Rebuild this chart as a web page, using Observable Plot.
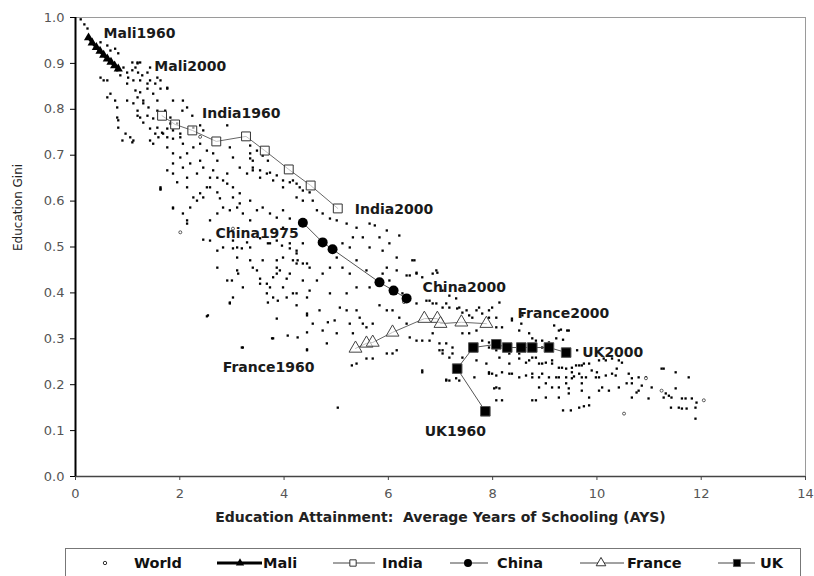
<!DOCTYPE html>
<html>
<head>
<meta charset="utf-8">
<script src="https://cdn.jsdelivr.net/npm/d3@7"></script>
<script src="https://cdn.jsdelivr.net/npm/@observablehq/plot@0.6"></script>
<style>
  body { margin: 0; background: #fff; }
  #chart svg, #legend svg { display: block; }
</style>
</head>
<body>
<div id="chart"></div>
<div id="legend"></div>
<script>
// ---------- tick labels ----------
const xTicks = [0, 2, 4, 6, 8, 10, 12, 14];
const yTicks = [0, 0.1, 0.2, 0.3, 0.4, 0.5, 0.6, 0.7, 0.8, 0.9, 1.0];
const xTitle = "Education Attainment:  Average Years of Schooling (AYS)";
const yTitle = "Education Gini";

// ---------- country series (AYS, Gini) ----------
const maliAYS   = [0.25, 0.32, 0.40, 0.47, 0.54, 0.61, 0.68, 0.75, 0.82];
const maliGini  = [0.956, 0.945, 0.935, 0.927, 0.918, 0.910, 0.903, 0.895, 0.888];
const indiaAYS  = [1.66, 1.91, 2.24, 2.70, 3.27, 3.63, 4.09, 4.51, 5.03];
const indiaGini = [0.786, 0.767, 0.754, 0.730, 0.741, 0.710, 0.669, 0.634, 0.584];
const chinaAYS  = [4.36, 4.74, 4.93, 5.83, 6.10, 6.35];
const chinaGini = [0.553, 0.510, 0.495, 0.423, 0.405, 0.388];
const franceAYS = [5.37, 5.58, 5.70, 6.08, 6.69, 6.94, 7.00, 7.40, 7.88];
const franceGini= [0.279, 0.290, 0.292, 0.314, 0.344, 0.344, 0.333, 0.336, 0.333];
const ukAYS     = [7.86, 7.32, 7.63, 8.07, 8.28, 8.55, 8.76, 9.08, 9.41];
const ukGini    = [0.142, 0.235, 0.281, 0.288, 0.281, 0.281, 0.281, 0.281, 0.270];

// ---------- world observations [AYS, Gini] ----------
const worldPoints = [
[0.10,0.996],[0.17,0.985],[0.23,0.976],[0.48,0.946],[0.61,0.939],[0.76,0.932],[0.82,0.922],[0.67,0.928],
[1.09,0.902],[1.19,0.902],[1.24,0.902],[1.15,0.891],[0.99,0.880],[1.09,0.885],[1.38,0.880],[1.28,0.874],
[0.48,0.869],[0.61,0.863],[0.67,0.834],[0.76,0.819],[0.80,0.782],[0.82,0.760],[0.96,0.747],[1.05,0.739],
[1.11,0.732],[1.15,0.841],[1.19,0.826],[1.24,0.837],[1.38,0.845],[1.43,0.863],[1.53,0.856],[1.63,0.845],
[1.76,0.845],[1.49,0.834],[1.57,0.819],[1.30,0.819],[1.40,0.804],[1.38,0.786],[1.24,0.782],[1.49,0.780],
[1.57,0.760],[1.53,0.747],[1.68,0.747],[1.76,0.739],[1.87,0.819],[2.06,0.819],[2.14,0.804],[2.05,0.797],
[2.24,0.786],[2.26,0.760],[2.39,0.765],[2.45,0.754],[1.87,0.736],[2.01,0.739],[2.06,0.725],[1.76,0.717],
[1.87,0.704],[2.01,0.695],[2.14,0.704],[2.26,0.717],[2.39,0.725],[2.52,0.710],[2.64,0.704],[2.72,0.688],
[2.39,0.688],[2.20,0.682],[2.06,0.673],[1.87,0.682],[2.45,0.673],[2.64,0.667],[2.91,0.765],[2.96,0.717],
[3.02,0.695],[3.15,0.673],[3.35,0.704],[3.40,0.688],[3.29,0.660],[3.40,0.667],[3.54,0.651],[3.67,0.660],
[3.79,0.645],[3.98,0.630],[4.17,0.645],[4.30,0.630],[1.63,0.630],[2.52,0.630],[2.72,0.619],[3.02,0.630],
[3.15,0.617],[2.83,0.645],[2.91,0.660],[2.14,0.651],[2.33,0.660],[2.58,0.651],[2.14,0.630],[2.39,0.617],
[2.26,0.608],[2.77,0.606],[1.87,0.660],[1.76,0.667],[1.95,0.641],[1.49,0.725],[1.59,0.739],[1.66,0.749],
[1.76,0.758],[1.87,0.754],[2.01,0.747],[0.82,0.776],[0.90,0.732],[1.09,0.728],[1.43,0.732],[0.54,0.863],
[0.61,0.826],[0.80,0.804],[0.99,0.819],[1.11,0.813],[1.19,0.797],[1.30,0.813],[1.19,0.786],[1.30,0.771],
[1.43,0.758],[1.57,0.797],[1.72,0.797],[1.82,0.782],[1.95,0.769],[1.82,0.769],[0.99,0.856],[1.11,0.863],
[1.24,0.863],[1.38,0.856],[1.43,0.891],[1.57,0.869],[1.63,0.863],[1.76,0.847],[1.01,0.869],[0.86,0.874],
[0.80,0.885],[0.92,0.891],[1.19,0.900],[1.20,0.880],
[3.35,0.721],[3.48,0.710],[3.59,0.699],[3.69,0.688],[3.35,0.693],[3.40,0.673],[3.54,0.667],[3.73,0.662],
[3.86,0.656],[3.98,0.645],[4.11,0.641],[4.24,0.638],[4.36,0.623],[4.49,0.619],[4.24,0.608],[4.36,0.601],
[4.55,0.601],[4.63,0.580],[4.74,0.573],[4.88,0.562],[5.01,0.558],[5.20,0.551],[5.39,0.542],[5.64,0.551],
[5.83,0.521],[6.02,0.508],[6.16,0.477],[5.89,0.492],[5.64,0.499],[5.51,0.521],[5.32,0.521],[5.26,0.499],
[5.12,0.508],[5.01,0.477],[5.12,0.455],[5.39,0.471],[5.58,0.449],[5.26,0.442],[5.39,0.412],[5.64,0.412],
[5.89,0.442],[6.02,0.427],[6.54,0.442],[6.85,0.442],[7.04,0.405],[6.27,0.399],[5.20,0.399],[4.88,0.399],
[3.35,0.601],[3.15,0.595],[3.02,0.608],[2.91,0.638],[2.72,0.651],[2.58,0.630],[2.45,0.608],[2.33,0.601],
[2.20,0.586],[2.06,0.573],[2.14,0.551],[1.87,0.586],[1.63,0.627],[2.58,0.558],[2.72,0.573],[2.83,0.586],
[2.96,0.580],[3.10,0.586],[3.21,0.573],[3.35,0.558],[3.48,0.580],[3.59,0.586],[3.73,0.573],[3.86,0.564],
[3.98,0.580],[4.11,0.562],[3.98,0.542],[3.86,0.514],[3.73,0.508],[3.35,0.499],[3.10,0.499],[2.83,0.499],
[2.58,0.514],[4.11,0.508],[4.24,0.486],[4.36,0.464],[4.49,0.455],[4.24,0.464],[3.98,0.477],[3.86,0.471],
[3.59,0.471],[3.35,0.471],[3.10,0.477],[3.86,0.442],[4.11,0.442],[4.36,0.427],[4.63,0.427],[4.74,0.442],
[4.88,0.455],[3.54,0.420],[3.21,0.412],[3.10,0.449],[2.91,0.427],[2.72,0.455],[3.02,0.390],[3.67,0.399],
[3.98,0.412],[4.24,0.399],[4.49,0.405],
[1.63,0.625],[1.87,0.584],[2.14,0.558],[2.45,0.516],[2.72,0.492],[3.02,0.497],[3.19,0.497],[3.02,0.514],
[3.29,0.510],[3.54,0.519],[3.69,0.508],[3.96,0.503],[4.11,0.497],[4.24,0.492],[4.36,0.508],[4.17,0.471],
[4.26,0.471],[4.44,0.464],[3.86,0.455],[3.92,0.449],[3.79,0.434],[3.54,0.431],[3.40,0.455],[3.48,0.449],
[3.67,0.420],[3.73,0.412],[4.05,0.431],[3.12,0.442],[3.00,0.427],[3.79,0.390],[3.88,0.383],[4.05,0.390],
[4.17,0.399],[4.24,0.373],[4.44,0.390],[3.69,0.379],[2.96,0.379],[2.54,0.351],[3.86,0.344],[4.44,0.351],
[3.79,0.301],[4.07,0.307],[4.26,0.303],[4.44,0.314],[3.21,0.281],[4.44,0.277],
[2.52,0.349],[2.96,0.377],[3.19,0.281],[3.77,0.301],[4.44,0.355],[4.44,0.275],[4.55,0.333],[4.68,0.362],
[4.74,0.318],[4.82,0.290],[4.84,0.336],[4.97,0.340],[5.01,0.312],[5.07,0.368],[5.20,0.362],[5.26,0.333],
[5.32,0.312],[5.39,0.362],[5.45,0.346],[5.51,0.333],[5.58,0.325],[5.70,0.333],[5.83,0.373],[5.97,0.362],
[6.08,0.362],[6.21,0.346],[6.35,0.333],[6.41,0.303],[6.54,0.296],[6.65,0.296],[6.79,0.296],[6.85,0.312],
[6.98,0.290],[7.11,0.290],[7.23,0.281],[7.42,0.312],[7.55,0.312],[7.69,0.318],[6.08,0.268],[5.97,0.268],
[6.16,0.275],[5.70,0.257],[5.58,0.257],[5.39,0.246],[5.30,0.242],[6.65,0.227],[7.11,0.211],[7.30,0.214],
[5.03,0.150],[6.98,0.275],[7.04,0.268],[7.23,0.268],[7.80,0.296],[7.93,0.292],[7.93,0.224],[8.03,0.192],
[8.07,0.166],[7.88,0.246],[6.54,0.377],[6.73,0.383],[6.85,0.377],[7.11,0.377],[7.36,0.368],[7.50,0.362],
[7.61,0.346],[7.74,0.368],[7.93,0.362],[8.07,0.346],
[5.74,0.547],[5.97,0.536],[6.21,0.525],[6.46,0.471],[5.97,0.455],[6.16,0.449],[6.35,0.438],[6.54,0.444],
[6.65,0.434],[6.92,0.449],[7.17,0.394],[7.30,0.388],[6.79,0.383],[6.92,0.377],[7.04,0.368],[7.17,0.368],
[7.32,0.366],[7.42,0.357],[7.55,0.351],[7.69,0.362],[7.80,0.355],[7.93,0.346],[8.07,0.325],[8.18,0.325],
[8.37,0.344],[8.57,0.351],[8.70,0.312],[8.83,0.296],[8.95,0.281],[7.93,0.281],[8.32,0.268],[8.51,0.268],
[8.70,0.253],[8.83,0.259],[8.95,0.246],[7.99,0.224],[8.07,0.194],[8.18,0.166],[8.76,0.224],[8.89,0.194],
[8.83,0.166],[8.32,0.224],[7.42,0.259],[7.17,0.259],[7.04,0.275],[7.69,0.253],[7.17,0.209],
[6.50,0.471],[6.94,0.444],[6.41,0.438],[7.99,0.368],[8.13,0.379],[8.37,0.340],[8.51,0.318],[8.55,0.333],
[8.76,0.301],[8.95,0.296],[9.18,0.329],[9.27,0.318],[9.46,0.318],[9.22,0.301],[8.51,0.257],[8.64,0.248],
[8.76,0.259],[8.89,0.246],[9.02,0.248],[9.14,0.246],[9.27,0.237],[9.41,0.235],[9.52,0.237],[9.66,0.242],
[9.75,0.246],[9.52,0.227],[9.66,0.224],[9.90,0.231],[10.04,0.253],[10.17,0.253],[10.29,0.257],[10.42,0.253],
[10.61,0.224],[10.29,0.224],[10.04,0.216],[9.79,0.216],[9.52,0.214],[9.41,0.203],[9.27,0.194],[9.14,0.194],
[9.02,0.203],[8.89,0.216],[8.76,0.216],[8.64,0.220],[8.51,0.216],[8.37,0.224],[8.18,0.227],[8.07,0.220],
[7.93,0.227],[8.13,0.259],[8.07,0.275],[8.32,0.246],[9.02,0.172],[9.27,0.172],[9.46,0.181],[9.71,0.203],
[10.04,0.187],[10.10,0.194],[10.23,0.187],[10.42,0.194],[10.67,0.203],[10.80,0.216],[10.94,0.216],[11.24,0.235],
[11.51,0.227],[11.76,0.216],[11.05,0.194],[10.80,0.187],[10.67,0.172],[11.32,0.181],[11.43,0.172],[11.70,0.170],
[11.82,0.170],[11.89,0.150],[11.63,0.148],[9.50,0.144],[9.66,0.150],[9.85,0.155],[8.13,0.192],[8.76,0.166],
[8.95,0.224],[9.08,0.216],[9.22,0.216],[9.41,0.216],[7.36,0.209],[7.65,0.216],[7.11,0.209],[6.65,0.231],
[9.08,0.292],[9.31,0.320],[9.43,0.318],[9.35,0.298],[9.62,0.275],[9.14,0.253],[9.33,0.237],[9.60,0.242],
[9.71,0.242],[9.85,0.246],[9.27,0.216],[9.56,0.218],[9.71,0.216],[9.98,0.216],[10.13,0.257],[10.48,0.248],
[10.00,0.227],[10.17,0.220],[10.36,0.220],[10.38,0.235],[10.67,0.214],[9.46,0.192],[9.71,0.187],[9.85,0.172],
[10.57,0.203],[10.76,0.183],[10.86,0.198],[10.99,0.170],[11.28,0.172],[11.38,0.176],[11.51,0.192],[11.28,0.235],
[11.63,0.170],[11.91,0.161],[11.57,0.150],[11.72,0.148],[11.89,0.126],[9.35,0.144],[9.75,0.153],[11.42,0.150]
];
const worldHollow = [[2.01,0.532],[10.52,0.137],[10.94,0.214],[11.24,0.187],[12.05,0.166],[3.02,0.540],[2.39,0.740],[6.30,0.380]];

// ---------- build tables ----------
const years9 = [1960, 1965, 1970, 1975, 1980, 1985, 1990, 1995, 2000];
const years6 = [1975, 1980, 1985, 1990, 1995, 2000];
const toRows = (country, xs, ys, yrs) => xs.map((x, i) => ({country, ays: x, gini: ys[i], year: yrs[i]}));
const mali   = toRows("Mali", maliAYS, maliGini, years9);
const india  = toRows("India", indiaAYS, indiaGini, years9);
const china  = toRows("China", chinaAYS, chinaGini, years6);
const france = toRows("France", franceAYS, franceGini, years9);
const uk     = toRows("UK", ukAYS, ukGini, years9);

const first = a => [a[0]];
const last = a => [a[a.length - 1]];
const lbl = (r) => r.country + r.year;
const labelStyle = {x: "ays", y: "gini", text: lbl, fontWeight: "bold", fontSize: 14, fill: "#1a1a1a"};

const chart = Plot.plot({
  width: 814,
  height: 540,
  marginLeft: 75,
  marginRight: 9,
  marginTop: 17,
  marginBottom: 64,
  style: {fontFamily: "DejaVu Sans", fontSize: "13px", background: "white", overflow: "visible"},
  x: {domain: [0, 14]},
  y: {domain: [0, 1]},
  marks: [
    Plot.ruleY([1], {stroke: "#9a9a9a", strokeWidth: 1}),
    Plot.ruleX([14], {stroke: "#9a9a9a", strokeWidth: 1}),
    Plot.axisY({ticks: yTicks, tickFormat: d3.format(".1f"), tickSize: 5, tickPadding: 6, stroke: "#000", fill: "#555", label: null}),
    Plot.axisX({ticks: xTicks, tickSize: 4, tickPadding: 8, stroke: "#444", fill: "#555", label: null}),
    Plot.text([xTitle], {frameAnchor: "bottom", dy: 45, fontWeight: "bold", fontSize: 14, fill: "#222", letterSpacing: "0.5px"}),
    Plot.text([yTitle], {frameAnchor: "left", rotate: -90, dx: -57, dy: 4, fontSize: 12, fill: "#222"}),
    // world scatter
    Plot.dot(worldPoints, {x: d => d[0], y: d => d[1], symbol: "square", r: 1.3, fill: "#000"}),
    Plot.dot(worldHollow, {x: d => d[0], y: d => d[1], r: 1.5, fill: "white", stroke: "#333", strokeWidth: 0.8}),
    // country lines
    Plot.line(india,  {x: "ays", y: "gini", stroke: "#666", strokeWidth: 1}),
    Plot.line(china,  {x: "ays", y: "gini", stroke: "#555", strokeWidth: 1}),
    Plot.line(france, {x: "ays", y: "gini", stroke: "#666", strokeWidth: 1}),
    Plot.line(uk,     {x: "ays", y: "gini", stroke: "#555", strokeWidth: 1}),
    Plot.line(mali,   {x: "ays", y: "gini", stroke: "#000", strokeWidth: 3}),
    // markers
    Plot.dot(india,  {x: "ays", y: "gini", symbol: "square", r: 5, fill: "white", fillOpacity: 0.6, stroke: "#333", strokeWidth: 1}),
    Plot.dot(china,  {x: "ays", y: "gini", r: 5, fill: "#000"}),
    Plot.dot(france, {x: "ays", y: "gini", symbol: "triangle", r: 4.8, fill: "white", fillOpacity: 0.6, stroke: "#444", strokeWidth: 1}),
    Plot.dot(uk,     {x: "ays", y: "gini", symbol: "square", r: 5.4, fill: "#000", stroke: "#555", strokeWidth: 1}),
    Plot.dot(mali,   {x: "ays", y: "gini", symbol: "triangle", r: 3.4, fill: "#000"}),
    // annotations
    Plot.text(first(mali),   {...labelStyle, textAnchor: "start", dx: 15, dy: -4}),
    Plot.text(last(mali),    {...labelStyle, textAnchor: "start", dx: 36, dy: -2}),
    Plot.text(first(india),  {...labelStyle, textAnchor: "start", dx: 40, dy: -2}),
    Plot.text(last(india),   {...labelStyle, textAnchor: "start", dx: 17, dy: 1}),
    Plot.text(first(china),  {...labelStyle, textAnchor: "end", dx: -4, dy: 11}),
    Plot.text(last(china),   {...labelStyle, textAnchor: "start", dx: 16, dy: -11}),
    Plot.text(first(france), {...labelStyle, textAnchor: "end", dx: -41, dy: 19}),
    Plot.text(last(france),  {...labelStyle, textAnchor: "start", dx: 31, dy: -10}),
    Plot.text(first(uk),     {...labelStyle, textAnchor: "middle", dx: -30, dy: 20}),
    Plot.text(last(uk),      {...labelStyle, textAnchor: "start", dx: 16, dy: 0}),
    // axis lines
    Plot.ruleY([0], {stroke: "#444", strokeWidth: 1.5}),
    Plot.ruleX([0], {stroke: "#000", strokeWidth: 2})
  ]
});
document.getElementById("chart").appendChild(chart);

// ---------- legend ----------
const legendItems = [
  {name: "World",  symbol: d3.symbolCircle,   size: 9,  fill: "white", stroke: "#333", line: null,     lineW: 0, mark: 105, text: 134},
  {name: "Mali",   symbol: d3.symbolTriangle, size: 30, fill: "#000",  stroke: "none", line: [217, 262], lineW: 3, mark: 240, text: 263},
  {name: "India",  symbol: d3.symbolSquare,   size: 40, fill: "white", stroke: "#333", line: [333, 375], lineW: 1, mark: 353, text: 382},
  {name: "China",  symbol: d3.symbolCircle,   size: 50, fill: "#000",  stroke: "none", line: [450, 488], lineW: 1, mark: 468, text: 497},
  {name: "France", symbol: d3.symbolTriangle, size: 40, fill: "white", stroke: "#333", line: [580, 624], lineW: 1, mark: 601, text: 627},
  {name: "UK",     symbol: d3.symbolSquare,   size: 50, fill: "#000",  stroke: "#555", line: [718, 755], lineW: 1, mark: 737, text: 760}
];
const lg = d3.select("#legend").append("svg").attr("width", 814).attr("height", 36)
  .style("font-family", "DejaVu Sans");
lg.append("rect").attr("x", 65.5).attr("y", 8.5).attr("width", 735).attr("height", 40)
  .attr("fill", "none").attr("stroke", "#777");
const ly = 23;
for (const it of legendItems) {
  if (it.line) lg.append("line").attr("x1", it.line[0]).attr("x2", it.line[1]).attr("y1", ly).attr("y2", ly)
    .attr("stroke", it.lineW > 2 ? "#000" : "#444").attr("stroke-width", it.lineW);
  lg.append("path").attr("d", d3.symbol(it.symbol, it.size)()).attr("transform", `translate(${it.mark},${ly})`)
    .attr("fill", it.fill).attr("stroke", it.stroke);
  lg.append("text").attr("x", it.text).attr("y", ly).attr("dominant-baseline", "central")
    .attr("font-weight", "bold").attr("font-size", 14.5).attr("fill", "#111").text(it.name);
}
</script>
</body>
</html>
